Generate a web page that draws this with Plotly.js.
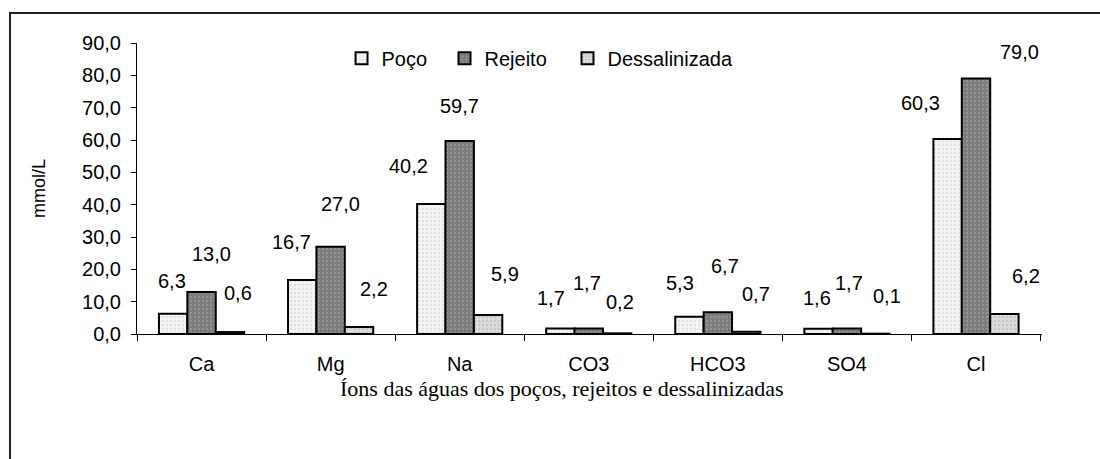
<!DOCTYPE html>
<html>
<head>
<meta charset="utf-8">
<script src="https://cdn.plot.ly/plotly-3.0.1.min.js"></script>
<style>
  html, body { margin: 0; padding: 0; background: #fff; }
  #wrap { position: relative; width: 1100px; height: 459px; overflow: hidden; }
  #frame { position: absolute; left: 9px; top: 12px; width: 1200px; height: 600px;
           border-left: 2px solid #222; border-top: 2px solid #222; pointer-events: none; z-index: 5; }
  #chart { position: absolute; left: 0; top: 0; width: 1100px; height: 459px; }
</style>
</head>
<body>
<div id="wrap">
  <div id="chart"></div>
  <div id="frame"></div>
</div>
<script>
// ---- Data ----
const categories = ["Ca", "Mg", "Na", "CO3", "HCO3", "SO4", "Cl"];
const seriesNames = ["Poço", "Rejeito", "Dessalinizada"];
const poco = [6.3, 16.7, 40.2, 1.7, 5.3, 1.6, 60.3];
const rejeito = [13.0, 27.0, 59.7, 1.7, 6.7, 1.7, 79.0];
const dessalinizada = [0.6, 2.2, 5.9, 0.2, 0.7, 0.1, 6.2];
const yTicks = [0, 10, 20, 30, 40, 50, 60, 70, 80, 90];
const xTitle = "Íons das águas dos poços, rejeitos e dessalinizadas";
const yTitle = "mmol/L";

// ---- Styles ----
const styles = [
  { bg: "#f4f4f4", fg: "#e0e0e0" },
  { bg: "#7c7c7c", fg: "#959595" },
  { bg: "#dcdcdc", fg: "#c6c6c6" }
];
const legendIds = ["legend", "legend2", "legend3"];
const legendX = [0.226, 0.3398, 0.4757];
const seriesValues = [poco, rejeito, dessalinizada];

const traces = seriesValues.map((vals, i) => ({
  type: "bar",
  name: seriesNames[i],
  legend: legendIds[i],
  x: categories,
  y: vals,
  marker: {
    color: styles[i].bg,
    line: { color: "#000", width: 2 },
    pattern: { shape: ".", bgcolor: styles[i].bg, fgcolor: styles[i].fg, size: 4, solidity: 0.25 }
  },
  hoverinfo: "skip"
}));

// label offsets (pixels) per category per series: [dx, dy]
const labelShift = [
  [[-30, 33], [10, 38], [36, 39]],
  [[-39, 38], [10, 43], [43, 38]],
  [[-51, 38], [0, 35], [45, 41]],
  [[-38, 31], [-2, 46], [31, 31]],
  [[-38, 34], [7, 46], [38, 38]],
  [[-30, 31], [2, 46], [40, 38]],
  [[-56, 36], [43, 27], [50, 38]]
];

const SANS = "Liberation Sans, Arial, sans-serif";
const fmt = v => v.toFixed(1).replace(".", ",");
const annotations = [];
categories.forEach((c, ci) => {
  seriesValues.forEach((vals, si) => {
    annotations.push({
      x: c, y: vals[ci], xref: "x", yref: "y",
      text: fmt(vals[ci]), showarrow: false,
      xanchor: "center", yanchor: "middle",
      xshift: labelShift[ci][si][0], yshift: labelShift[ci][si][1],
      font: { family: SANS, size: 20, color: "#000" }
    });
  });
});
// x-axis title (placed as annotation to match its slight left offset)
annotations.push({
  xref: "paper", yref: "paper", x: 0.47, y: -0.186,
  xanchor: "center", yanchor: "middle", showarrow: false,
  text: xTitle,
  font: { family: "Liberation Serif, Times New Roman, serif", size: 22, color: "#000" }
});

const layout = {
  width: 1100, height: 459,
  margin: { l: 137, r: 58, t: 43, b: 125 },
  paper_bgcolor: "#fff", plot_bgcolor: "#fff",
  separators: ",.",
  barmode: "group", bargap: 0.34, bargroupgap: 0,
  font: { family: SANS, size: 20, color: "#000" },
  showlegend: true,
  xaxis: {
    type: "category",
    showline: true, linecolor: "#000", linewidth: 1,
    ticks: "outside", tickson: "boundaries", ticklen: 6, tickcolor: "#000", tickwidth: 1,
    ticklabelstandoff: 12,
    showgrid: false, zeroline: false, fixedrange: true
  },
  yaxis: {
    range: [0, 90], tickvals: yTicks, tickformat: ".1f",
    showline: true, linecolor: "#000", linewidth: 1,
    ticks: "outside", ticklen: 5, tickcolor: "#000", tickwidth: 1,
    ticklabelstandoff: 6,
    showgrid: false, zeroline: false, fixedrange: true,
    title: { text: yTitle, font: { size: 18 }, standoff: 31 }
  },
  annotations: annotations
};
legendIds.forEach((id, i) => {
  layout[id] = {
    orientation: "h", x: legendX[i], y: 1.015, xanchor: "left", yanchor: "top",
    font: { size: 20 }, itemwidth: 30, bgcolor: "rgba(0,0,0,0)"
  };
});

Plotly.newPlot("chart", traces, layout, { staticPlot: true, displayModeBar: false });
</script>
</body>
</html>
